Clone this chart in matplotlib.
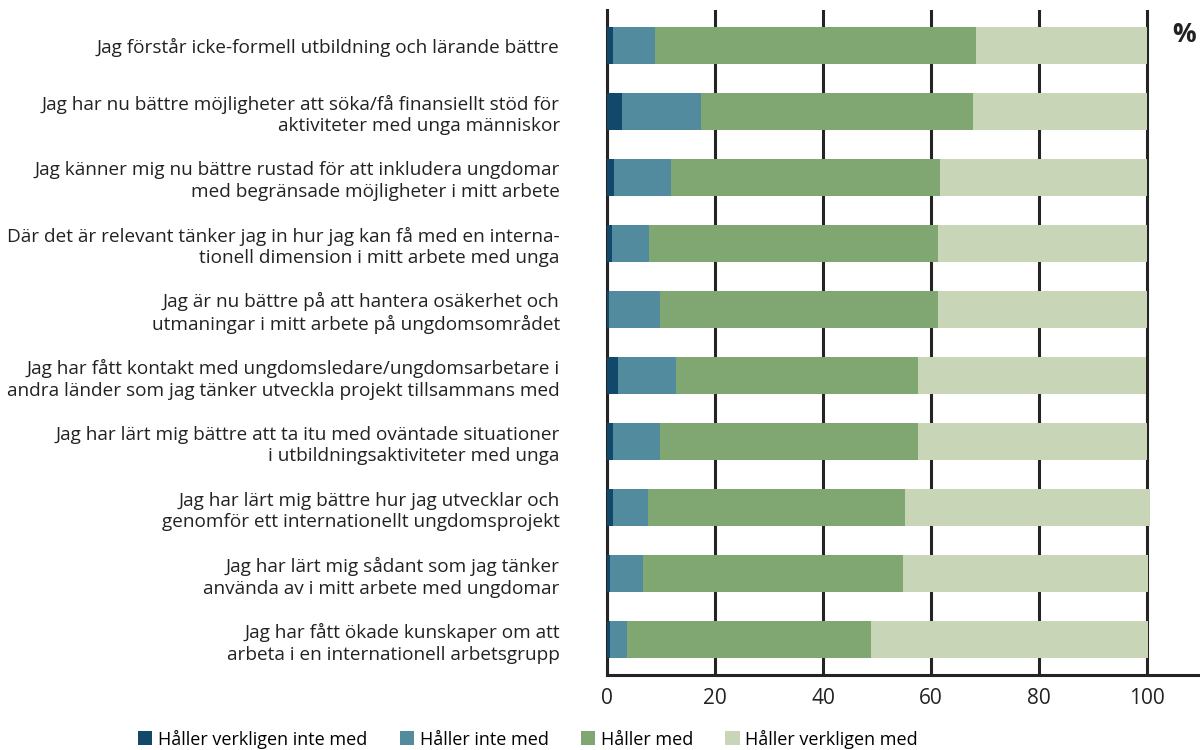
import numpy as np
import matplotlib.pyplot as plt

plt.rcParams['font.family'] = ['Open Sans', 'DejaVu Sans']

labels = [
    "Jag förstår icke-formell utbildning och lärande bättre",
    "Jag har nu bättre möjligheter att söka/få finansiellt stöd för\naktiviteter med unga människor",
    "Jag känner mig nu bättre rustad för att inkludera ungdomar\nmed begränsade möjligheter i mitt arbete",
    "Där det är relevant tänker jag in hur jag kan få med en interna-\ntionell dimension i mitt arbete med unga",
    "Jag är nu bättre på att hantera osäkerhet och\nutmaningar i mitt arbete på ungdomsområdet",
    "Jag har fått kontakt med ungdomsledare/ungdomsarbetare i\nandra länder som jag tänker utveckla projekt tillsammans med",
    "Jag har lärt mig bättre att ta itu med oväntade situationer\ni utbildningsaktiviteter med unga",
    "Jag har lärt mig bättre hur jag utvecklar och\ngenomför ett internationellt ungdomsprojekt",
    "Jag har lärt mig sådant som jag tänker\nanvända av i mitt arbete med ungdomar",
    "Jag har fått ökade kunskaper om att\narbeta i en internationell arbetsgrupp",
]

series = ["Håller verkligen inte med", "Håller inte med", "Håller med", "Håller verkligen med"]
colors = ["#12486a", "#528b9e", "#80a772", "#c8d5b7"]

strongly_disagree = [1.2, 2.8, 1.3, 0.9, 0.4, 2.0, 1.1, 1.1, 0.6, 0.6]
disagree = [7.7, 14.6, 10.6, 6.9, 9.4, 10.8, 8.7, 6.5, 6.1, 3.1]
agree = [59.4, 50.4, 49.8, 53.5, 51.5, 44.8, 47.8, 47.6, 48.1, 45.2]
strongly_agree = [31.7, 32.2, 38.3, 38.7, 38.7, 42.2, 42.4, 45.3, 45.4, 51.3]

data = [strongly_disagree, disagree, agree, strongly_agree]

fig = plt.figure(figsize=(12, 7.5), dpi=100)
ax = fig.add_axes([607 / 1200, 75 / 750, 593 / 1200, 665 / 750])

y = np.arange(len(labels))
left = np.zeros(len(labels))
for vals, name, c in zip(data, series, colors):
    ax.barh(y, vals, left=left, height=0.56, color=c, label=name,
            zorder=3, clip_on=False)
    left += np.array(vals)

ax.set_xlim(0, 109.8)
ax.set_ylim(9.53, -0.53)
ax.set_xticks([0, 20, 40, 60, 80, 100])
ax.set_yticks(y)
ax.set_yticklabels(labels, fontsize=13.7, color="#222222", linespacing=1.25)
ax.tick_params(axis='y', length=0, pad=34)
ax.tick_params(axis='x', length=0, pad=9, labelsize=15, labelcolor="#222222")
ax.xaxis.grid(True, color="#262324", linewidth=2.2, zorder=0)
ax.set_axisbelow(True)

for s in ["top", "right"]:
    ax.spines[s].set_visible(False)
for s in ["left", "bottom"]:
    ax.spines[s].set_color("#262324")
    ax.spines[s].set_linewidth(2.2)

fig.text(1184 / 1200, 715 / 750, "%", fontsize=19, fontweight="bold",
         ha="center", va="center", color="#222222")

fig.legend(loc="center", bbox_to_anchor=(528 / 1200, 11 / 750), ncol=4,
           frameon=False, fontsize=13, handlelength=0.8, handleheight=0.8,
           handletextpad=0.3, columnspacing=1.8, borderaxespad=0)

fig.savefig("out.png", dpi=100)
